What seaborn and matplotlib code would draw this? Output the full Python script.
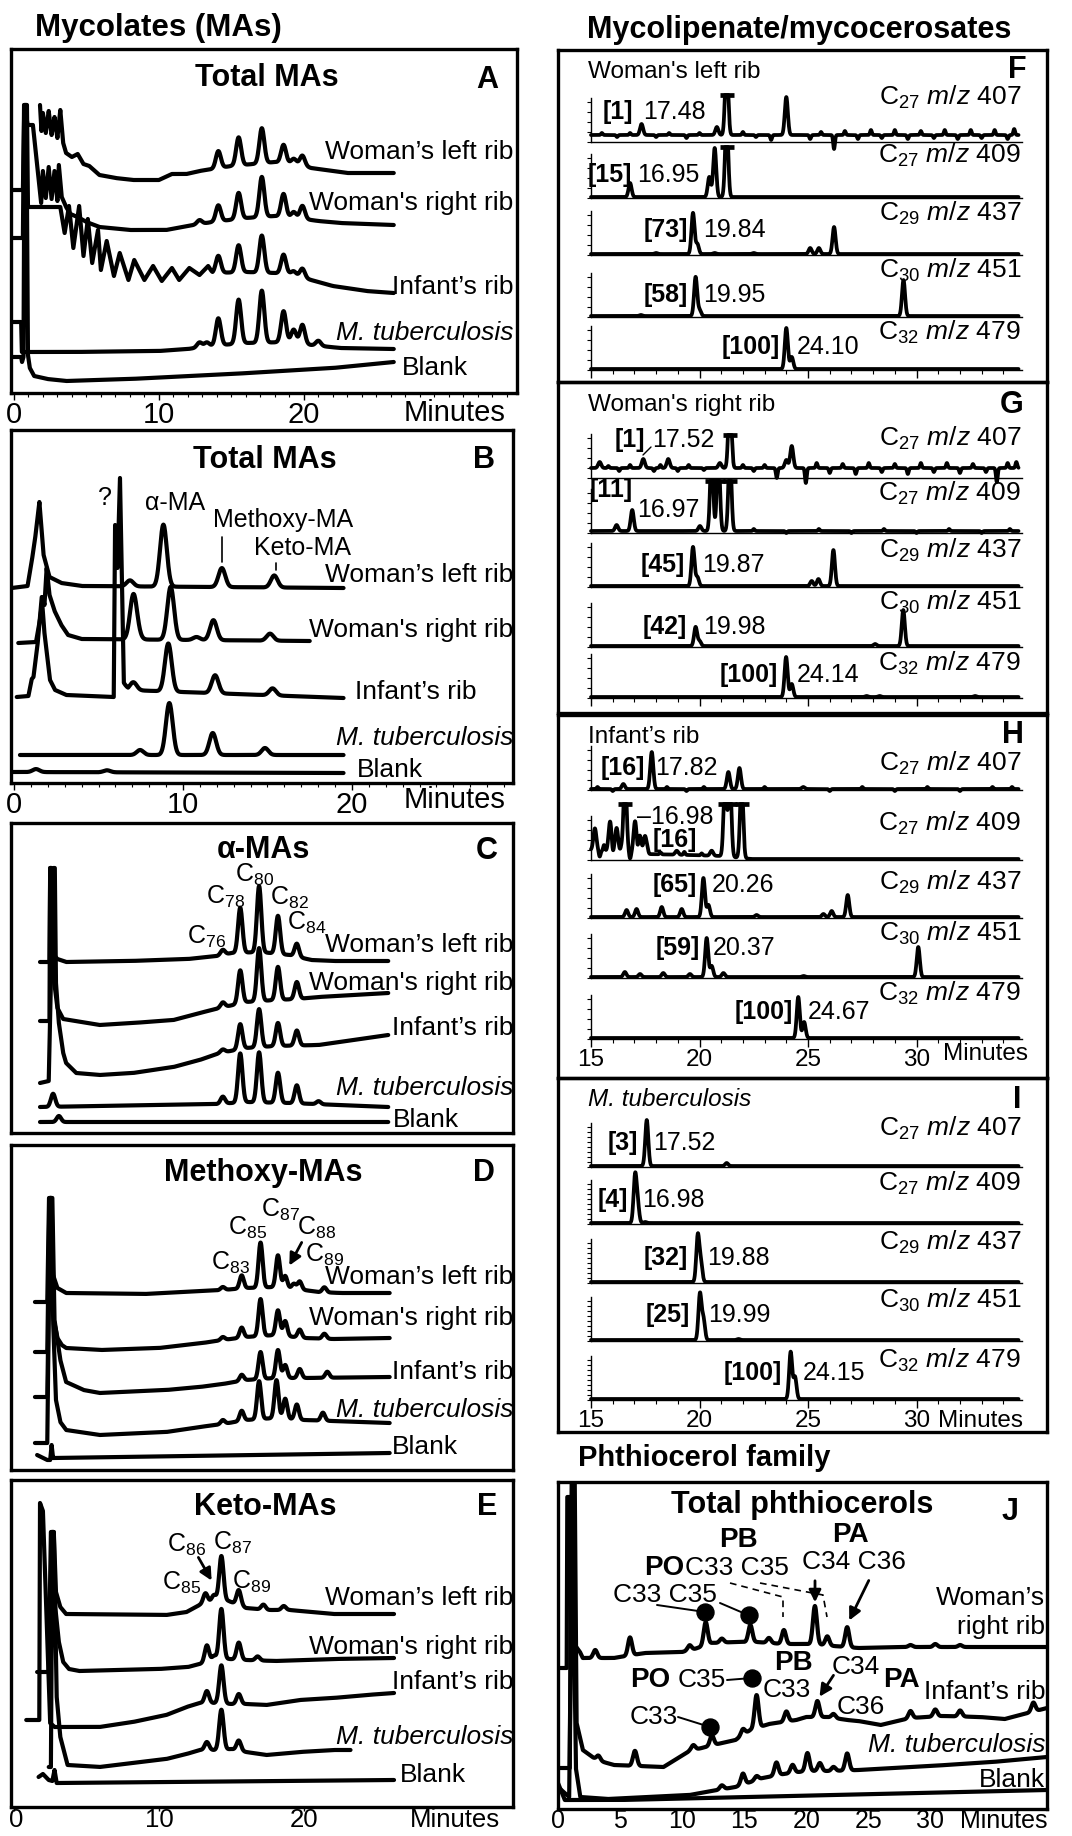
import numpy as np
import pandas as pd
import matplotlib
matplotlib.use("Agg")
import matplotlib.pyplot as plt
from matplotlib.transforms import Affine2D
from matplotlib.lines import Line2D
from matplotlib.patches import FancyArrowPatch
import seaborn as sns

sns.set_theme(style="white")
plt.rcParams['font.family'] = ['Liberation Sans', 'DejaVu Sans']
plt.rcParams.update({
    'mathtext.fontset': 'custom',
    'mathtext.rm': 'Liberation Sans',
    'mathtext.it': 'Liberation Sans:italic',
    'mathtext.bf': 'Liberation Sans:bold',
    'text.color': 'black', 'xtick.color': 'black', 'ytick.color': 'black',
    'axes.edgecolor': 'black',
})

# ---- sample names ----
SAMPLES = ["Woman\u2019s left rib", "Woman's right rib", "Infant\u2019s rib", "M. tuberculosis", "Blank"]

# ---- panel A: total MAs (time min, height) ----
A_LEFT_BASE = [(1.8, 288), (1.9, 262), (2.0, 280), (2.2, 260), (2.4, 282), (2.6, 258), (2.8, 276), (3.0, 255),
               (3.2, 283), (3.4, 250), (3.6, 240), (4.0, 236), (4.4, 239), (4.8, 229), (5.2, 227), (5.9, 218),
               (7.0, 215), (8.2, 213), (10.0, 213), (10.9, 219), (11.9, 219), (12.8, 222), (13.7, 224),
               (15.0, 227), (16.5, 229), (18.0, 231), (19.5, 229), (20.5, 225), (22.0, 222), (23.0, 220), (26.2, 220)]
A_LEFT_PEAKS = [(14.1, 17), (15.5, 28), (17.1, 35), (18.6, 18), (19.3, 5), (19.9, 10)]
A_RIGHT_BASE = [(-0.2, 203), (0.62, 203), (0.72, 288), (0.95, 268), (1.31, 268), (1.88, 190), (2.0, 222),
                (2.2, 195), (2.4, 226), (2.6, 194), (2.8, 222), (3.0, 192), (3.1, 228), (3.3, 196), (3.6, 186),
                (3.9, 179), (4.4, 176), (5.0, 171), (5.9, 166), (8.0, 163), (10.5, 163), (12.4, 168),
                (13.7, 171), (16.0, 175), (18.0, 177), (20.0, 174), (21.0, 172), (22.5, 170), (26.2, 168)]
A_RIGHT_PEAKS = [(12.8, 4), (14.1, 16), (15.5, 26), (17.1, 40), (18.6, 23), (19.3, 6), (19.9, 13)]
A_INFANT_BASE = [(-0.2, 155), (0.62, 155), (0.7, 288), (0.9, 288), (0.97, 186), (3.2, 186), (3.5, 160),
                 (3.8, 187), (4.1, 145), (4.5, 187), (4.8, 137), (5.1, 174), (5.4, 130), (5.8, 163), (6.0, 123),
                 (6.4, 152), (6.9, 117), (7.3, 140), (7.9, 113), (8.3, 133), (9.0, 113), (9.6, 127), (10.2, 112),
                 (10.9, 125), (11.4, 113), (12.1, 125), (12.8, 118), (13.4, 127), (13.7, 120), (16.0, 121),
                 (18.0, 120), (19.0, 119), (20.5, 113), (22.0, 107), (24.3, 102), (26.2, 100)]
A_INFANT_PEAKS = [(14.1, 17), (15.5, 27), (17.1, 37), (18.6, 19), (19.3, 4), (19.9, 9)]
A_MTB_BASE = [(-0.2, 71), (0.5, 71), (0.55, 41), (4.0, 41), (10.0, 42), (12.0, 44), (13.5, 47), (16.0, 50),
              (19.0, 51), (20.5, 48), (22.5, 45), (26.2, 44)]
A_MTB_PEAKS = [(12.8, 5), (13.3, 4), (14.1, 27), (15.5, 44), (17.1, 52), (18.6, 31), (19.3, 13), (19.9, 19), (21.0, 5)]
A_BLANK_BASE = [(-0.2, 36), (0.5, 36), (0.56, 31), (0.66, 36), (0.74, 288), (0.86, 288), (0.97, 38),
                (1.1, 25), (1.4, 17), (2.3, 14), (3.6, 12), (8.0, 14), (15.0, 19), (22.0, 25), (26.2, 31)]

# ---- panel B: total MAs ----
B_LEFT_BASE = [(-0.14, 195), (0.8, 197), (1.05, 222), (1.25, 245), (1.5, 281), (1.75, 228), (2.1, 206),
               (2.8, 200), (4.0, 197), (19.5, 195)]
B_LEFT_PEAKS = [(6.86, 6), (8.84, 62), (12.3, 19), (15.4, 12)]
B_RIGHT_BASE = [(0.25, 140), (1.3, 141), (1.55, 165), (1.7, 186), (1.8, 178), (1.93, 215), (2.1, 188),
                (2.4, 172), (2.8, 158), (3.2, 148), (4.0, 144), (17.5, 142)]
B_RIGHT_PEAKS = [(7.06, 43), (7.3, 5), (9.27, 53), (10.8, 3), (11.8, 20), (15.15, 7)]
B_INFANT_BASE = [(0.16, 86), (0.85, 87), (1.05, 104), (1.15, 106), (1.4, 140), (1.64, 186), (1.8, 150),
                 (2.13, 103), (2.43, 93), (3.1, 88), (5.9, 86), (5.98, 258), (6.12, 215), (6.27, 305),
                 (6.5, 100), (6.75, 93), (19.5, 85)]
B_INFANT_PEAKS = [(7.06, 8), (9.13, 48), (11.9, 18), (15.3, 7)]
B_MTB_BASE = [(0.35, 28), (19.5, 28)]
B_MTB_PEAKS = [(7.46, 5), (9.19, 52), (11.76, 22), (14.85, 7)]
B_BLANK_BASE = [(-0.14, 11), (19.5, 10)]
B_BLANK_PEAKS = [(1.3, 3), (5.5, 2)]

# ---- panel C: alpha-MAs ----
C_LEFT_BASE = [(1.8, 171), (2.45, 171), (2.5, 265), (2.57, 265), (2.62, 180), (3.0, 174), (3.6, 171),
               (8.0, 172), (12.0, 174), (14.0, 177), (15.0, 180), (17.0, 181), (19.0, 178), (20.5, 173),
               (22.0, 172), (25.8, 172)]
C_LEFT_PEAKS = [(14.4, 5), (15.6, 45), (16.9, 66), (18.2, 38), (19.5, 13)]
C_RIGHT_BASE = [(1.8, 112), (2.45, 112), (2.5, 265), (2.6, 265), (2.7, 160), (3.0, 125), (3.4, 114),
                (5.9, 108), (8.2, 110), (11.0, 113), (12.8, 120), (14.2, 125), (16.0, 131), (18.0, 133),
                (19.5, 134), (21.0, 136), (25.8, 140)]
C_RIGHT_PEAKS = [(14.4, 5), (15.6, 33), (16.9, 53), (18.2, 33), (19.5, 17)]
C_INFANT_BASE = [(1.8, 50), (2.4, 52), (2.72, 265), (2.82, 265), (2.9, 150), (3.1, 110), (3.4, 80),
                 (3.6, 70), (4.3, 60), (5.9, 58), (8.2, 60), (11.0, 66), (12.8, 73), (14.2, 80), (16.0, 85),
                 (18.0, 87), (21.0, 88), (25.8, 98)]
C_INFANT_PEAKS = [(14.4, 3), (15.6, 25), (16.9, 38), (18.2, 23), (19.5, 15)]
C_MTB_BASE = [(1.8, 26), (14.0, 29), (16.0, 31), (19.0, 30), (25.8, 26)]
C_MTB_PEAKS = [(2.7, 13), (14.4, 7), (15.6, 49), (16.9, 50), (18.2, 30), (19.5, 18), (21.0, 3)]
C_BLANK_BASE = [(1.8, 11), (25.8, 11)]
C_BLANK_PEAKS = [(3.1, 6)]

# ---- panel D: methoxy-MAs ----
D_LEFT_BASE = [(1.45, 168), (2.3, 168), (2.42, 272), (2.55, 272), (2.7, 195), (3.0, 182), (3.6, 177),
               (9.0, 176), (13.0, 179), (14.4, 180), (16.0, 182), (18.0, 183), (19.5, 181), (21.0, 178),
               (22.5, 177), (25.9, 177)]
D_LEFT_PEAKS = [(14.4, 3), (15.7, 13), (17.0, 45), (18.2, 32), (18.7, 12), (19.3, 5), (19.7, 8), (21.4, 5)]
D_RIGHT_BASE = [(1.45, 118), (2.3, 118), (2.45, 272), (2.6, 272), (2.75, 150), (3.0, 132), (3.3, 125),
                (3.6, 122), (6.0, 120), (10.0, 122), (13.0, 127), (14.4, 130), (16.0, 133), (18.0, 135),
                (20.0, 132), (22.0, 131), (25.9, 132)]
D_RIGHT_PEAKS = [(14.4, 3), (15.7, 10), (17.0, 37), (18.2, 25), (18.7, 15), (19.7, 8), (21.4, 5)]
D_INFANT_BASE = [(1.45, 73), (2.3, 73), (2.5, 272), (2.65, 272), (2.8, 150), (3.2, 110), (3.6, 88),
                 (4.8, 80), (5.9, 77), (10.5, 80), (12.8, 83), (14.4, 86), (16.0, 90), (18.0, 92),
                 (20.0, 92), (25.9, 93)]
D_INFANT_PEAKS = [(15.7, 6), (17.0, 27), (18.2, 28), (18.7, 13), (19.7, 9), (21.6, 6)]
D_MTB_BASE = [(1.45, 27), (2.3, 27), (2.5, 272), (2.58, 272), (2.7, 150), (2.9, 70), (3.2, 48), (3.6, 40),
              (5.9, 35), (10.5, 38), (12.8, 43), (14.4, 46), (16.0, 50), (18.0, 52), (20.0, 50), (25.9, 47)]
D_MTB_PEAKS = [(14.4, 4), (15.7, 10), (16.9, 38), (18.1, 38), (18.7, 20), (19.5, 15), (21.3, 8)]
D_BLANK_BASE = [(1.6, 15), (2.3, 10), (2.5, 10), (2.6, 25), (2.7, 12), (25.9, 17)]

# ---- panel E: keto-MAs ----
E_LEFT_BASE = [(2.3, 192), (2.5, 192), (2.6, 275), (2.75, 275), (2.9, 215), (3.2, 200), (3.6, 193),
               (10.5, 192), (11.9, 195), (12.8, 202), (13.7, 206), (14.8, 206), (16.0, 199), (17.5, 197),
               (19.0, 197), (20.5, 195), (22.0, 193), (26.2, 193)]
E_LEFT_PEAKS = [(13.2, 10), (13.8, 6), (14.3, 45), (15.5, 15), (17.2, 5), (18.6, 4)]
E_RIGHT_BASE = [(1.6, 135), (2.4, 135), (2.55, 275), (2.7, 275), (2.85, 200), (3.1, 165), (3.4, 145),
                (3.8, 138), (4.5, 136), (10.0, 138), (12.0, 140), (12.8, 143), (13.7, 146), (14.8, 148),
                (16.0, 147), (18.0, 146), (22.0, 148), (26.2, 149)]
E_RIGHT_PEAKS = [(13.3, 17), (13.8, 5), (14.3, 51), (15.5, 17), (16.8, 4)]
E_INFANT_BASE = [(0.85, 87), (1.75, 87), (1.8, 304), (2.0, 296), (2.5, 84), (2.8, 80), (5.9, 80), (8.2, 85),
                 (10.5, 92), (11.9, 100), (12.8, 104), (14.0, 104), (15.0, 103), (16.0, 103), (17.4, 102),
                 (19.7, 107), (22.0, 109), (24.3, 112), (26.2, 114)]
E_INFANT_PEAKS = [(13.3, 12), (14.3, 38), (15.5, 10)]
E_MTB_BASE = [(2.4, 40), (2.55, 40), (2.65, 275), (2.75, 275), (2.95, 110), (3.2, 70), (3.7, 42), (5.9, 40),
              (8.2, 44), (10.5, 48), (11.9, 53), (12.8, 57), (14.0, 57), (15.0, 58), (16.0, 55), (17.4, 52),
              (19.7, 55), (22.0, 57), (23.2, 57)]
E_MTB_PEAKS = [(13.3, 8), (14.3, 40), (15.5, 10)]
E_BLANK_BASE = [(1.7, 30), (2.0, 33), (2.4, 27), (2.65, 26), (2.8, 37), (2.95, 24), (26.2, 27)]
E_TICKS = [0, 10, 20]

# ---- panels F-I: single-ion traces (time min, height) ----
MZ_LABELS = [r"C$_{\mathregular{27}}$ $\mathit{m/z}$ 407", r"C$_{\mathregular{27}}$ $\mathit{m/z}$ 409",
             r"C$_{\mathregular{29}}$ $\mathit{m/z}$ 437", r"C$_{\mathregular{30}}$ $\mathit{m/z}$ 451",
             r"C$_{\mathregular{32}}$ $\mathit{m/z}$ 479"]

F1_PEAKS = [(17.33, 11), (20.8, 8), (21.25, 80), (24.0, 38)]
F1_NOISE = [(15.5, 2), (16.2, -2), (16.8, 2), (18.0, -2), (18.6, 2), (19.4, -3), (20.0, 2), (22.0, 3),
            (22.6, -2), (23.3, -5), (25.1, -4), (25.6, 3), (26.2, -14), (26.7, 4), (27.3, -4), (27.9, 5),
            (28.4, -3), (29.0, 5), (29.6, -4), (30.2, 4), (30.8, -3), (31.3, 5), (31.9, -4), (32.5, 5),
            (33.0, -3), (33.6, 5), (34.2, -4), (34.5, 6)]
F2_PEAKS = [(16.8, 14), (20.45, 20), (20.7, 49), (21.25, 80)]
F3_PEAKS = [(18.0, 1), (19.7, 41), (19.9, 10), (20.7, 1), (22.5, 1), (25.1, 6), (25.5, 6), (26.2, 27)]
F4_PEAKS = [(17.3, 1), (19.82, 39), (20.0, 6), (29.4, 36)]
F5_PEAKS = [(24.0, 41), (24.25, 12)]
F_LEVEL = [7, 1, 1, 1, 1]
F_CAP = [47, 51, None, None, None]
F_CLIP = [[21.25], [21.25], [], [], []]
F_PCT = ["[1]", "[15]", "[73]", "[58]", "[100]"]
F_RT = ["17.48", "16.95", "19.84", "19.95", "24.10"]

G1_PEAKS = [(15.4, 6), (17.41, 9), (18.56, 9), (20.94, 5), (21.4, 80), (24.0, 8), (24.25, 22)]
G1_NOISE = [(15.8, 2), (16.3, -3), (16.8, 3), (17.9, -3), (18.2, 3), (19.0, -3), (19.5, 3), (20.2, -2),
            (22.0, 3), (22.5, -3), (23.0, 3), (23.56, -10), (24.9, -15), (25.4, 5), (26.0, -5), (26.6, 4),
            (27.2, -6), (27.8, 5), (28.4, -4), (29.0, 4), (29.6, -6), (30.2, 5), (30.8, -4), (31.4, 5),
            (32.0, -5), (32.6, 4), (33.2, -4), (33.7, -14), (34.2, 5), (34.6, 6)]
G2_PEAKS = [(16.18, 6), (16.9, 21), (20.02, 5), (20.56, 80), (20.87, 80), (21.4, 80)]
G2_NOISE = [(22.5, 2), (24.0, -2), (25.5, 2), (27.0, -2), (28.5, 2), (30.0, -2), (31.5, 2), (33.0, -2), (34.3, 2)]
G3_PEAKS = [(19.7, 39), (19.9, 9), (25.17, 5), (25.48, 7), (26.17, 36)]
G4_PEAKS = [(19.82, 19), (20.0, 5), (28.09, 2), (29.39, 36)]
G5_PEAKS = [(23.99, 40), (24.25, 13), (27.7, 1), (28.3, 1), (32.7, 1)]
G_LEVEL = [10, 2, 1, 1, 1]
G_CAP = [43, 52, None, None, None]
G_CLIP = [[21.4], [20.56, 20.87, 21.4], [], [], []]
G_PCT = ["[1]", "[11]", "[45]", "[42]", "[100]"]
G_RT = ["17.52", "16.97", "19.87", "19.98", "24.14"]

H1_PEAKS = [(16.49, 5), (17.8, 37), (21.33, 17), (21.84, 21), (24.78, 2)]
H1_NOISE = [(15.3, 2), (16.0, -2), (18.5, 2), (19.4, -2), (20.2, 2), (23.0, 2), (26.0, -2), (27.5, 2),
            (29.0, -2), (30.5, 2), (32.0, -2), (33.5, 2), (34.4, 2)]
H2_BASE = [(14.95, 10), (17.5, 6), (19.5, 5), (21.0, 4), (22.4, 1), (34.7, 1)]
H2_PEAKS = [(15.18, 22), (15.88, 30), (16.18, 24), (16.57, 80), (17.03, 32), (17.25, 18), (17.49, 18),
            (18.95, 4), (20.56, 5), (21.18, 80), (21.4, 80), (21.94, 80)]
H2_NOISE = [(15.4, -6), (15.6, 6), (16.0, -5), (16.4, 4), (16.8, -6), (17.15, -5), (17.6, 3), (18.2, 2),
            (19.3, 3), (20.1, 2)]
H3_PEAKS = [(16.64, 7), (17.1, 8), (18.26, 10), (19.18, 8), (20.18, 39), (20.41, 12), (22.63, 2),
            (25.71, 3), (26.09, 6), (26.83, 22)]
H4_PEAKS = [(16.56, 5), (17.26, 3), (18.33, 4), (19.56, 3), (20.33, 39), (20.56, 11), (21.1, 4), (24.8, 1), (30.08, 30)]
H5_PEAKS = [(24.55, 41), (24.82, 16)]
H_LEVEL = [1, H2_BASE, 1, 1, 1]
H_CAP = [None, 56, None, None, None]
H_CLIP = [[], [16.57, 21.18, 21.4, 21.94], [], [], []]
H_PCT = ["[16]", "[16]", "[65]", "[59]", "[100]"]
H_RT = ["17.82", "\u201316.98", "20.26", "20.37", "24.67"]

I1_PEAKS = [(17.57, 46), (21.25, 3)]
I2_PEAKS = [(17.03, 46), (17.15, 18), (17.5, 1)]
I3_PEAKS = [(19.92, 46), (20.06, 19)]
I4_PEAKS = [(20.02, 46), (20.18, 21), (21.8, 1)]
I5_PEAKS = [(24.2, 47), (24.4, 22)]
I_LEVEL = [1, 1, 1, 1, 1]
I_CAP = [None, None, None, None, None]
I_CLIP = [[], [], [], [], []]
I_PCT = ["[3]", "[4]", "[32]", "[25]", "[100]"]
I_RT = ["17.52", "16.98", "19.88", "19.99", "24.15"]

# ---- panel J: total phthiocerols ----
J_RIGHT_BASE = [(0.16, 141), (0.7, 141), (0.75, 312), (0.95, 312), (1.05, 200), (1.3, 165), (1.77, 157),
                (2.0, 151), (4.5, 151), (7.0, 156), (10.0, 157), (11.0, 160), (12.4, 166), (14.3, 167),
                (16.0, 167), (18.2, 165), (20.7, 165), (22.2, 163), (24.2, 161), (28.0, 162), (39.4, 162)]
J_RIGHT_PEAKS = [(3.0, 8), (5.8, 18), (10.6, 5), (11.9, 23), (13.2, 4), (15.5, 17), (17.0, 5), (18.2, 14),
                 (20.7, 38), (21.7, 9), (23.3, 20), (28.4, 2), (30.4, 3), (32.4, 2)]
J_INFANT_BASE = [(0.0, 41), (0.95, 41), (1.1, 326), (1.35, 326), (1.5, 86), (2.0, 59), (3.1, 49), (4.5, 44),
                 (8.5, 42), (10.6, 58), (11.9, 62), (13.2, 66), (14.3, 69), (15.5, 79), (17.0, 85),
                 (19.2, 89), (20.0, 92), (21.7, 92), (23.3, 89), (24.2, 88), (26.0, 84), (28.4, 91),
                 (31.0, 93), (34.0, 92), (36.0, 90), (39.4, 101)]
J_INFANT_PEAKS = [(3.25, 5), (6.2, 15), (10.9, 5), (12.4, 10), (14.9, 6), (16.0, 33), (18.4, 10), (20.9, 16),
                  (22.2, 4), (28.4, 7), (30.4, 7), (32.4, 6), (38.3, 9)]
J_MTB_BASE = [(0.0, 22), (0.9, 12), (1.15, 300), (1.45, 40), (1.8, 12), (4.0, 10), (10.6, 14), (12.4, 18),
              (14.3, 22), (16.5, 31), (18.2, 35), (20.0, 38), (22.0, 38), (24.2, 39), (30.0, 43), (35.0, 47),
              (39.4, 52)]
J_MTB_PEAKS = [(13.2, 4), (14.9, 11), (16.0, 4), (17.6, 13), (18.9, 8), (20.1, 18), (21.1, 8), (22.2, 4), (23.3, 17)]
J_BLANK_BASE = [(0.0, 26), (0.55, 9), (5.0, 9), (39.4, 19)]
J_DOT_T = [11.86, 15.35, 15.6, 12.26]
J_DOT_H = [197, 194, 131, 82]

# ---------------------------------------------------------------
W, H = 1072, 1836
fig = plt.figure(figsize=(W / 100, H / 100), dpi=100)
PX = Affine2D().scale(1 / W, -1 / H).translate(0, 1) + fig.transFigure
LABEL_SIZE = 19


def add_box(x0, y0, x1, y1):
    ax = fig.add_axes([x0 / W, 1 - y1 / H, (x1 - x0) / W, (y1 - y0) / H])
    ax.set_facecolor("none")
    return ax


def txt(x, y, s, ha="left", size=18, weight="normal", style="normal"):
    fig.text(x, y, s, transform=PX, ha=ha, va="center", fontsize=size,
             fontweight=weight, fontstyle=style)


def line(xs, ys, ls="-", lw=1.4):
    fig.add_artist(Line2D(xs, ys, transform=PX, color="black", lw=lw, ls=ls))


def arrow(p0, p1):
    fig.add_artist(FancyArrowPatch(p0, p1, transform=PX, arrowstyle="-|>", mutation_scale=18,
                                   lw=2, color="black"))


def cs(n):
    return r"C$_{\mathregular{%s}}$" % n


def make_trace(name, base, peaks, sigma, step, noise=(), cap=None):
    bt = np.array([b[0] for b in base], dtype=float)
    bh = np.array([b[1] for b in base], dtype=float)
    t = np.sort(np.concatenate([np.arange(bt[0], bt[-1], step), bt]))
    y = np.interp(t, bt, bh)
    for pt, ph in peaks:
        y = y + ph * np.exp(-0.5 * ((t - pt) / sigma) ** 2)
    for pt, ph in noise:
        y = y + ph * np.exp(-0.5 * ((t - pt) / 0.04) ** 2)
    if cap is not None:
        y = np.minimum(y, cap)
    return pd.DataFrame({"t": t, "y": y, "trace": name})


def frame_spines(ax):
    for s in ax.spines.values():
        s.set_linewidth(2.4)
        s.set_color("black")


def left_panel(box_px, xlim, ylim, traces, sigma, step=0.02, lw=3.0):
    ax = add_box(*box_px)
    df = pd.concat([make_trace(n, b, p, sigma, step) for n, b, p in traces])
    sns.lineplot(data=df, x="t", y="y", units="trace", estimator=None, sort=False,
                 color="black", linewidth=lw, ax=ax)
    ax.set_xlim(*xlim)
    ax.set_ylim(*ylim)
    ax.set_xlabel("")
    ax.set_ylabel("")
    ax.set_yticks([])
    frame_spines(ax)
    return ax


def minute_ticks(ax, major, minor, size, pad=1, length=5):
    ax.set_xticks(major)
    ax.set_xticks(minor, minor=True)
    ax.tick_params(axis="x", which="both", bottom=True, direction="out", color="black")
    ax.tick_params(axis="x", which="major", length=length, width=1, labelsize=size, pad=pad)
    ax.tick_params(axis="x", which="minor", length=3, width=0.8)


def sample_labels(ys, blank_x, infant_x=None):
    for i, (s, y) in enumerate(zip(SAMPLES, ys)):
        style = "italic" if i == 3 else "normal"
        if i == 4:
            txt(blank_x, y, s, size=LABEL_SIZE)
        elif i == 2 and infant_x is not None:
            txt(infant_x, y, s, size=LABEL_SIZE)
        else:
            txt(513, y, s, ha="right", style=style, size=LABEL_SIZE)


# ---------------- left column ----------------
txt(35, 28, "Mycolates (MAs)", size=22.5, weight="bold")

# A
ax = left_panel((11, 49, 517, 393), (-0.2, 34.7), (0, 344), [
    ("left", A_LEFT_BASE, A_LEFT_PEAKS), ("right", A_RIGHT_BASE, A_RIGHT_PEAKS),
    ("inf", A_INFANT_BASE, A_INFANT_PEAKS), ("mtb", A_MTB_BASE, A_MTB_PEAKS),
    ("blank", A_BLANK_BASE, [])], sigma=0.17)
minute_ticks(ax, [0, 10, 20], np.arange(0, 35), 21)
txt(455, 413, "Minutes", ha="center", size=21)
txt(267, 78, "Total MAs", ha="center", size=22, weight="bold")
txt(487, 80, "A", ha="center", size=22, weight="bold")
sample_labels([152, 203, 287, 333, 368], 402)

# B
ax = left_panel((11, 430, 513, 783), (-0.18, 29.53), (0, 353), [
    ("left", B_LEFT_BASE, B_LEFT_PEAKS), ("right", B_RIGHT_BASE, B_RIGHT_PEAKS),
    ("inf", B_INFANT_BASE, B_INFANT_PEAKS), ("mtb", B_MTB_BASE, B_MTB_PEAKS),
    ("blank", B_BLANK_BASE, B_BLANK_PEAKS)], sigma=0.2)
minute_ticks(ax, [0, 10, 20], np.arange(0, 30), 21)
txt(455, 800, "Minutes", ha="center", size=21)
txt(265, 460, "Total MAs", ha="center", size=22, weight="bold")
txt(484, 460, "B", ha="center", size=22, weight="bold")
sample_labels([575, 630, 692, 738, 770], 357, infant_x=355)
txt(105, 498, "?", ha="center")
txt(175, 503, "\u03b1-MA", ha="center")
txt(283, 520, "Methoxy-MA", ha="center")
txt(303, 548, "Keto-MA", ha="center")
line([222, 222], [537, 562], lw=1.2)
line([276, 276], [563, 570], lw=1.2)

# C
ax = left_panel((11, 823, 513, 1133), (-0.2, 34.4), (0, 310), [
    ("left", C_LEFT_BASE, C_LEFT_PEAKS), ("right", C_RIGHT_BASE, C_RIGHT_PEAKS),
    ("inf", C_INFANT_BASE, C_INFANT_PEAKS), ("mtb", C_MTB_BASE, C_MTB_PEAKS),
    ("blank", C_BLANK_BASE, C_BLANK_PEAKS)], sigma=0.15)
ax.set_xticks([])
txt(263, 850, "\u03b1-MAs", ha="center", size=22, weight="bold")
txt(487, 851, "C", ha="center", size=22, weight="bold")
sample_labels([945, 983, 1028, 1088, 1120], 393)
for n, x, y in [("76", 207, 937), ("78", 226, 897), ("80", 255, 875), ("82", 289, 898), ("84", 307, 923)]:
    txt(x, y, cs(n), ha="center")

# D
ax = left_panel((11, 1145, 513, 1470), (-0.2, 34.4), (0, 325), [
    ("left", D_LEFT_BASE, D_LEFT_PEAKS), ("right", D_RIGHT_BASE, D_RIGHT_PEAKS),
    ("inf", D_INFANT_BASE, D_INFANT_PEAKS), ("mtb", D_MTB_BASE, D_MTB_PEAKS),
    ("blank", D_BLANK_BASE, [])], sigma=0.14)
ax.set_xticks([])
txt(263, 1173, "Methoxy-MAs", ha="center", size=22, weight="bold")
txt(484, 1173, "D", ha="center", size=22, weight="bold")
sample_labels([1277, 1318, 1372, 1410, 1447], 392)
for n, x, y in [("83", 230, 1263), ("85", 248, 1228), ("87", 280, 1210), ("88", 317, 1228), ("89", 325, 1255)]:
    txt(x, y, cs(n), ha="center")
arrow((303, 1240), (288, 1268))

# E
E_XLIM = (-0.2, 34.4)
ax = left_panel((11, 1480, 513, 1807), E_XLIM, (0, 327), [
    ("left", E_LEFT_BASE, E_LEFT_PEAKS), ("right", E_RIGHT_BASE, E_RIGHT_PEAKS),
    ("inf", E_INFANT_BASE, E_INFANT_PEAKS), ("mtb", E_MTB_BASE, E_MTB_PEAKS),
    ("blank", E_BLANK_BASE, [])], sigma=0.15)
ax.set_xticks(E_TICKS)
ax.set_xticklabels([])
ax.tick_params(axis="x", bottom=True, direction="out", length=3, width=1)
for tk in E_TICKS:
    txt(max(11 + (tk - E_XLIM[0]) / (E_XLIM[1] - E_XLIM[0]) * 502, 16), 1820, str(tk), ha="center", size=18.5)
txt(455, 1820, "Minutes", ha="center", size=18.5)
txt(265, 1507, "Keto-MAs", ha="center", size=22, weight="bold")
txt(487, 1507, "E", ha="center", size=22, weight="bold")
sample_labels([1598, 1647, 1682, 1737, 1775], 400)
for n, x, y in [("86", 187, 1545), ("87", 232, 1543), ("85", 182, 1583), ("89", 252, 1582)]:
    txt(x, y, cs(n), ha="center")
arrow((197, 1555), (213, 1583))

# ---------------- right column: F-I ----------------
txt(587, 30, "Mycolipenate/mycocerosates", size=22, weight="bold")


def right_panel(box_px, baselines, rows, levels, caps, clips, ystep, show_labels, title, title_style,
                letter, letter_x, letter_y, mz_y, pct, rt, pct_pos, minutes_x=None, minutes_y=None):
    frame = add_box(*box_px)
    frame.set_xticks([])
    frame.set_yticks([])
    frame_spines(frame)
    for i, (peaks, noise) in enumerate(rows):
        by = baselines[i]
        ax = add_box(591, by - 44, 1022, by)
        lev = levels[i]
        base = lev if isinstance(lev, list) else [(14.95, lev), (34.7, lev)]
        df = make_trace("row", base, peaks, 0.07, 0.01, noise, caps[i])
        sns.lineplot(data=df, x="t", y="y", estimator=None, sort=False, color="black", linewidth=2.7, ax=ax)
        for ln in ax.lines:
            ln.set_clip_on(False)
        if clips[i]:
            sns.scatterplot(x=clips[i], y=[caps[i]] * len(clips[i]), marker="_", s=110, linewidth=3.4,
                            color="black", ax=ax)
            ax.collections[-1].set_clip_on(False)
        ax.set_xlim(15, 34.86)
        ax.set_ylim(0, 44)
        ax.set_xlabel("")
        ax.set_ylabel("")
        ax.spines["top"].set_visible(False)
        ax.spines["right"].set_visible(False)
        ax.spines["left"].set_linewidth(1)
        ax.spines["bottom"].set_linewidth(1)
        ax.set_yticks(np.arange(0, 45, ystep))
        ax.tick_params(axis="y", left=True, direction="out", length=3, width=0.8, labelleft=False)
        if i == 4:
            minute_ticks(ax, [15, 20, 25, 30], np.arange(15, 35), 17.5, pad=1, length=6)
            if not show_labels:
                ax.tick_params(axis="x", labelbottom=False)
        else:
            ax.set_xticks([])
        txt(1021, mz_y[i], MZ_LABELS[i], ha="right", size=19)
        bx, byy, rx, ry = pct_pos[i]
        txt(bx, byy, pct[i], ha="right", size=18, weight="bold")
        txt(rx, ry, rt[i], size=18)
    txt(588, title[1], title[0], size=17.5, style=title_style)
    txt(letter_x, letter_y, letter, ha="center", size=22, weight="bold")
    if minutes_x is not None:
        txt(minutes_x, minutes_y, "Minutes", ha="right", size=17.5)


right_panel((558, 50, 1047, 382), [142, 198, 255, 317, 370],
            [(F1_PEAKS, F1_NOISE), (F2_PEAKS, []), (F3_PEAKS, []), (F4_PEAKS, []), (F5_PEAKS, [])],
            F_LEVEL, F_CAP, F_CLIP, 10, False, ("Woman's left rib", 72), "normal", "F", 1017, 70,
            [97, 155, 213, 270, 332], F_PCT, F_RT,
            [(633, 112, 643, 112), (632, 175, 637, 175), (688, 230, 703, 230), (688, 295, 703, 295),
             (780, 347, 797, 347)])

right_panel((558, 382, 1047, 713), [478, 533, 587, 647, 698],
            [(G1_PEAKS, G1_NOISE), (G2_PEAKS, G2_NOISE), (G3_PEAKS, []), (G4_PEAKS, []), (G5_PEAKS, [])],
            G_LEVEL, G_CAP, G_CLIP, 10, False, ("Woman's right rib", 405), "normal", "G", 1012, 405,
            [438, 493, 550, 602, 663], G_PCT, G_RT,
            [(645, 440, 652, 440), (633, 490, 637, 510), (685, 565, 702, 565), (687, 627, 703, 627),
             (778, 675, 797, 675)])
line([643, 651], [455, 447], lw=1)

right_panel((558, 715, 1047, 1078), [790, 860, 918, 978, 1039],
            [(H1_PEAKS, H1_NOISE), (H2_PEAKS, H2_NOISE), (H3_PEAKS, []), (H4_PEAKS, []), (H5_PEAKS, [])],
            H_LEVEL, H_CAP, H_CLIP, 10, True, ("Infant\u2019s rib", 737), "normal", "H", 1013, 735,
            [763, 823, 882, 933, 993], H_PCT, H_RT,
            [(645, 768, 655, 768), (697, 840, 637, 817), (697, 885, 712, 885), (700, 948, 713, 948),
             (793, 1012, 808, 1012)], minutes_x=1028, minutes_y=1054)

right_panel((558, 1078, 1047, 1432), [1167, 1224, 1283, 1341, 1400],
            [(I1_PEAKS, []), (I2_PEAKS, []), (I3_PEAKS, []), (I4_PEAKS, []), (I5_PEAKS, [])],
            I_LEVEL, I_CAP, I_CLIP, 5, True, ("M. tuberculosis", 1100), "italic", "I", 1017, 1100,
            [1128, 1183, 1242, 1300, 1360], I_PCT, I_RT,
            [(638, 1143, 653, 1143), (628, 1200, 642, 1200), (688, 1258, 707, 1258), (690, 1315, 708, 1315),
             (782, 1373, 803, 1373)], minutes_x=1023, minutes_y=1421)

# ---------------- J ----------------
txt(578, 1458, "Phthiocerol family", size=21, weight="bold")
axj = left_panel((558, 1482, 1047, 1809), (0, 39.4), (0, 327), [
    ("right", J_RIGHT_BASE, J_RIGHT_PEAKS), ("inf", J_INFANT_BASE, J_INFANT_PEAKS),
    ("mtb", J_MTB_BASE, J_MTB_PEAKS), ("blank", J_BLANK_BASE, [])], sigma=0.16, step=0.03)
sns.scatterplot(x=J_DOT_T, y=J_DOT_H, s=150, color="black", edgecolor="black", ax=axj, zorder=5)
axj.set_xticks([0, 5, 10, 15, 20, 25, 30])
axj.tick_params(axis="x", bottom=True, length=0, labelsize=18, pad=0)
txt(1047, 1821, "Minutes", ha="right", size=18)
txt(802, 1505, "Total phthiocerols", ha="center", size=22, weight="bold")
txt(1010, 1512, "J", ha="center", size=22, weight="bold")
txt(738, 1540, "PB", ha="center", size=20, weight="bold")
txt(850, 1535, "PA", ha="center", size=20, weight="bold")
txt(684, 1568, "PO", ha="right", size=20, weight="bold")
txt(685, 1568, "C33 C35", size=19)
txt(802, 1562, "C34 C36", size=19)
txt(613, 1595, "C33 C35", size=19)
line([657, 705], [1605, 1612])
line([720, 748], [1603, 1615])
line([730, 783, 783], [1583, 1597, 1617], ls=(0, (4, 3)), lw=1.2)
line([760, 823, 827], [1583, 1595, 1617], ls=(0, (4, 3)), lw=1.2)
arrow((815, 1578), (815, 1605))
arrow((870, 1578), (848, 1623))
txt(793, 1663, "PB", ha="center", size=20, weight="bold")
txt(650, 1680, "PO", ha="center", size=20, weight="bold")
txt(678, 1680, "C35", size=19)
line([727, 752], [1680, 1678])
txt(832, 1667, "C34", size=19)
txt(883, 1680, "PA", size=20, weight="bold")
txt(763, 1690, "C33", size=19)
txt(837, 1707, "C36", size=19)
arrow((835, 1673), (818, 1699))
txt(630, 1717, "C33", size=19)
line([678, 710], [1717, 1727])
txt(1045, 1598, "Woman\u2019s", ha="right", size=LABEL_SIZE)
txt(1045, 1627, "right rib", ha="right", size=LABEL_SIZE)
txt(1045, 1692, "Infant\u2019s rib", ha="right", size=LABEL_SIZE)
txt(1045, 1745, "M. tuberculosis", ha="right", style="italic", size=LABEL_SIZE)
txt(1045, 1780, "Blank", ha="right", size=LABEL_SIZE)

fig.savefig("out.png", dpi=100)
